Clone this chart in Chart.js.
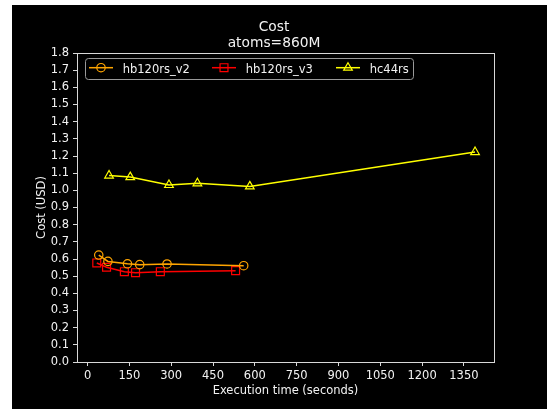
<!DOCTYPE html>
<html>
<head>
<meta charset="utf-8">
<script src="https://cdn.jsdelivr.net/npm/chart.js@4.4.0/dist/chart.umd.min.js"></script>
<style>
  html, body { margin: 0; padding: 0; background: #000000; overflow: hidden; }
  #leftEdge { position: absolute; left: 0; top: 0; width: 12px; height: 100%; background: #ffffff; }
  #topEdge { position: absolute; left: 0; top: 0; width: 100%; height: 5px; background: #ffffff; }
  #wrap { position: absolute; left: 12px; top: 5px; width: 535px; height: 404px; background: #000000; }
</style>
</head>
<body>
<div id="leftEdge"></div>
<div id="topEdge"></div>
<div id="wrap"><canvas id="myChart"></canvas></div>
<script>
// Data
var v2Time = [40, 73, 143, 187, 285, 560];
var v2Cost = [0.623, 0.586, 0.572, 0.567, 0.571, 0.561];

var v3Time = [33, 68, 132, 172, 261, 531];
var v3Cost = [0.577, 0.552, 0.526, 0.520, 0.526, 0.532];

var hcTime = [77, 153, 292, 394, 582, 1390];
var hcCost = [1.086, 1.077, 1.031, 1.041, 1.023, 1.223];

var xTicks = [0, 150, 300, 450, 600, 750, 900, 1050, 1200, 1350];
var yTicks = [0, 0.1, 0.2, 0.3, 0.4, 0.5, 0.6, 0.7, 0.8, 0.9, 1.0, 1.1, 1.2, 1.3, 1.4, 1.5, 1.6, 1.7, 1.8];

var titleLines = ['Cost', 'atoms=860M'];

var FONT = "'DejaVu Sans', sans-serif";
var TEXT = '#f2f2f2';
var SPINE = '#d8d8d8';

function toPoints(xs, ys) {
    return xs.map(function (x, i) { return { x: x, y: ys[i] }; });
}

function series(label, xs, ys, color, style, radius) {
    return {
        label: label,
        data: toPoints(xs, ys),
        borderColor: color,
        backgroundColor: 'rgba(0,0,0,0)',
        borderWidth: 1.5,
        pointStyle: style,
        pointRadius: radius,
        pointHoverRadius: radius,
        pointBorderColor: color,
        pointBackgroundColor: 'rgba(0,0,0,0)',
        pointBorderWidth: 1.2,
        tension: 0,
        fill: false
    };
}

// title, frame and legend drawn inside the plot like the original
var decorations = {
    id: 'decorations',
    afterDatasetsDraw: function (chart) {
        var ctx = chart.ctx;
        var a = chart.chartArea;
        ctx.save();

        // frame
        ctx.strokeStyle = SPINE;
        ctx.lineWidth = 1;
        ctx.strokeRect(Math.round(a.left) + 0.5, Math.round(a.top) + 0.5,
            Math.round(a.right - a.left), Math.round(a.bottom - a.top));

        // title
        ctx.fillStyle = TEXT;
        ctx.font = '13.8px ' + FONT;
        ctx.textAlign = 'center';
        ctx.textBaseline = 'alphabetic';
        ctx.fillText(titleLines[0], 262, 25.7);
        ctx.fillText(titleLines[1], 262, 41.7);

        // legend box
        var bx = 73.5, by = 53.5, bw = 328, bh = 21, r = 3;
        ctx.beginPath();
        ctx.moveTo(bx + r, by);
        ctx.lineTo(bx + bw - r, by);
        ctx.arcTo(bx + bw, by, bx + bw, by + r, r);
        ctx.lineTo(bx + bw, by + bh - r);
        ctx.arcTo(bx + bw, by + bh, bx + bw - r, by + bh, r);
        ctx.lineTo(bx + r, by + bh);
        ctx.arcTo(bx, by + bh, bx, by + bh - r, r);
        ctx.lineTo(bx, by + r);
        ctx.arcTo(bx, by, bx + r, by, r);
        ctx.closePath();
        ctx.fillStyle = 'rgba(0,0,0,0.8)';
        ctx.fill();
        ctx.strokeStyle = '#999999';
        ctx.lineWidth = 1;
        ctx.stroke();

        // legend entries
        var starts = [77, 200, 324];
        var ly = 62.7;
        chart.data.datasets.forEach(function (ds, i) {
            var x0 = starts[i];
            ctx.strokeStyle = ds.borderColor;
            ctx.lineWidth = 1.5;
            ctx.beginPath();
            ctx.moveTo(x0, ly);
            ctx.lineTo(x0 + 24, ly);
            ctx.stroke();
            ctx.fillStyle = 'rgba(0,0,0,0)';
            ctx.lineWidth = 1.2;
            Chart.helpers.drawPoint(ctx, {
                pointStyle: ds.pointStyle,
                radius: ds.pointRadius,
                rotation: 0,
                borderWidth: 1.2
            }, x0 + 12, ly);
            ctx.fillStyle = TEXT;
            ctx.font = '11.5px ' + FONT;
            ctx.textAlign = 'left';
            ctx.textBaseline = 'alphabetic';
            ctx.fillText(ds.label, x0 + 33.7, 67.5);
        });

        ctx.restore();
    }
};

var ctx = document.getElementById('myChart').getContext('2d');
var myChart = new Chart(ctx, {
    type: 'line',
    data: {
        datasets: [
            series('hb120rs_v2', v2Time, v2Cost, '#ffa500', 'circle', 4.2),
            series('hb120rs_v3', v3Time, v3Cost, '#ff0000', 'rect', 5.6),
            series('hc44rs', hcTime, hcCost, '#ffff00', 'triangle', 5)
        ]
    },
    plugins: [decorations],
    options: {
        responsive: true,
        maintainAspectRatio: false,
        animation: false,
        layout: { padding: { left: 0, right: 53, top: 48, bottom: 0 } },
        plugins: {
            legend: { display: false },
            title: { display: false },
            tooltip: { enabled: false }
        },
        scales: {
            x: {
                type: 'linear',
                min: -38,
                max: 1458,
                afterBuildTicks: function (scale) {
                    scale.ticks = xTicks.map(function (v) { return { value: v }; });
                },
                afterFit: function (scale) { scale.height = 47; },
                grid: { display: true, drawOnChartArea: false, drawTicks: true, tickLength: 4, color: SPINE },
                border: { display: false },
                ticks: {
                    color: TEXT,
                    font: { family: FONT, size: 11.5 },
                    padding: 3,
                    maxRotation: 0,
                    autoSkip: false,
                    callback: function (v) { return String(v); }
                },
                title: {
                    display: true,
                    text: 'Execution time (seconds)',
                    color: TEXT,
                    font: { family: FONT, size: 11.5 },
                    padding: { top: 0, bottom: 11.5 }
                }
            },
            y: {
                type: 'linear',
                min: 0,
                max: 1.8,
                afterBuildTicks: function (scale) {
                    scale.ticks = yTicks.map(function (v) { return { value: v }; });
                },
                afterFit: function (scale) { scale.width = 65; },
                grid: { display: true, drawOnChartArea: false, drawTicks: true, tickLength: 4, color: SPINE },
                border: { display: false },
                ticks: {
                    color: TEXT,
                    font: { family: FONT, size: 11.5 },
                    padding: 4,
                    autoSkip: false,
                    callback: function (v) { return Number(v).toFixed(1); }
                },
                title: {
                    display: true,
                    text: 'Cost (USD)',
                    color: TEXT,
                    font: { family: FONT, size: 11.5 },
                    padding: { top: 23, bottom: 0 }
                }
            }
        }
    }
});
</script>
</body>
</html>
